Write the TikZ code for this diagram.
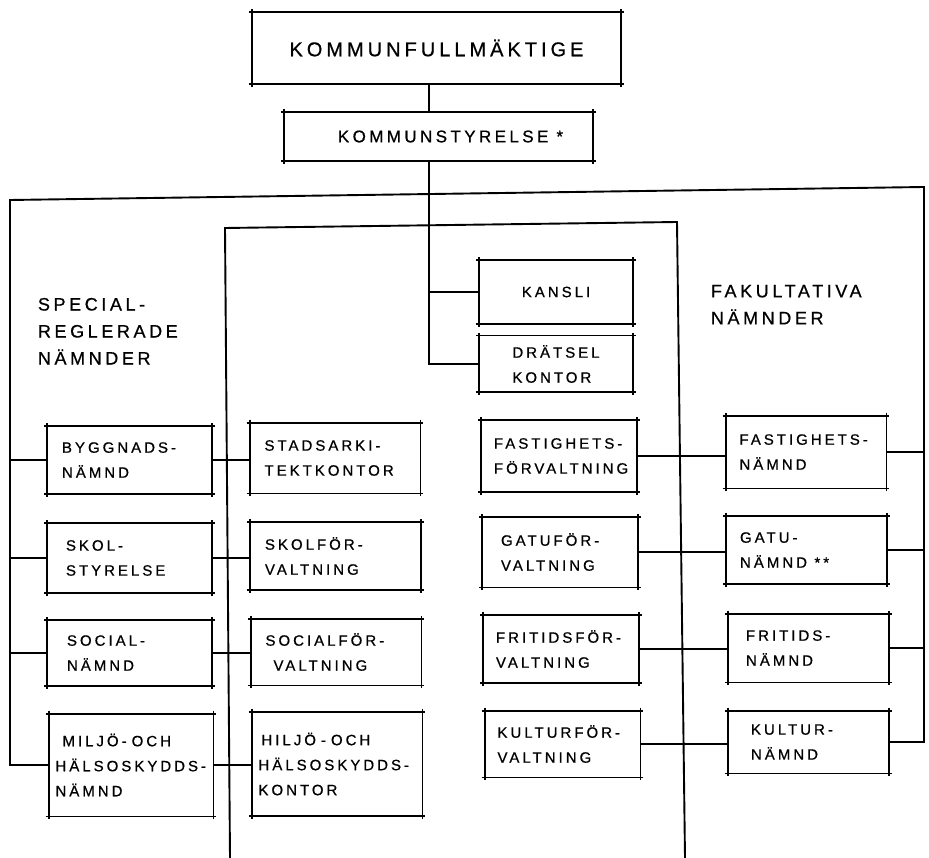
\documentclass[tikz,border=0pt]{standalone}
\usepackage{fontspec}
\usepackage{tikz}
\newfontfamily\handfont[LetterSpace=20,FakeBold=0.7]{Liberation Sans}
\tikzset{
    %Define box edges that run past the corners
    kant/.style={
           shorten <=-3pt,
           shorten >=-3pt},
    %Define style for boxes
    ruta/.style={
           inner sep=2pt,
           align=left,
           font=\handfont\fontsize{15}{25}\selectfont,
           append after command={
             (\tikzlastnode.north west) edge[kant] (\tikzlastnode.north east)
             (\tikzlastnode.south west) edge[kant] (\tikzlastnode.south east)
             (\tikzlastnode.north west) edge[kant] (\tikzlastnode.south west)
             (\tikzlastnode.north east) edge[kant] (\tikzlastnode.south east)}},
    % Define one style for each column
    namnd/.style={ruta, inner xsep=0pt, minimum width=163pt, text width=135pt},
    kontor/.style={ruta, inner xsep=0pt, minimum width=169pt, text width=141pt},
    forv/.style={ruta, inner xsep=0pt, minimum width=154pt, text width=130pt},
    fakult/.style={ruta, inner xsep=0pt, minimum width=159pt, text width=133pt},
    % Define style for headings
    rubrik/.style={
           inner sep=0pt,
           anchor=north west,
           align=left,
           font=\handfont\fontsize{18}{27}\selectfont}
}

\begin{document}
\begin{tikzpicture}[x=1pt,y=-1pt,line width=1.9pt]
\useasboundingbox (0,0) rectangle (929,858);
\node[ruta, minimum width=367pt, minimum height=70pt,
  font=\handfont\fontsize{20}{24}\selectfont] (kf) at (436.5,48) {KOMMUNFULLMÄKTIGE};
\node[ruta, minimum width=307pt, minimum height=47pt,
  font=\handfont\fontsize{17}{20}\selectfont] (ks) at (438.5,136.5) {\hspace*{24pt}KOMMUNSTYRELSE *};
\node[ruta, minimum width=152pt, minimum height=62pt] (ka) at (556,292) {KANSLI};
\node[ruta, minimum width=152pt, minimum height=55pt] (dr) at (556,364) {DRÄTSEL\\KONTOR};
\node[rubrik] (sr) at (37,297) {SPECIAL-\\REGLERADE\\NÄMNDER};
\node[rubrik] (fk) at (710,284) {FAKULTATIVA\\NÄMNDER};
% special regulated boards
\node[namnd, minimum height=66pt] (sn1) at (129.5,460) {BYGGNADS-\\NÄMND};
\node[namnd, minimum height=68pt] (sn2) at (129.5,558) {\hspace*{4pt}SKOL-\\\hspace*{4pt}STYRELSE};
\node[namnd, minimum height=64pt] (sn3) at (129.5,653) {\hspace*{5pt}SOCIAL-\\\hspace*{5pt}NÄMND};
\node[namnd, minimum height=101pt, text width=151pt] (sn4) at (131,765)
  {\hspace*{7pt}MILJÖ- OCH\\HÄLSOSKYDDS-\\NÄMND};
% offices
\node[kontor, minimum height=69pt] (kt1) at (335,458) {STADSARKI-\\TEKTKONTOR};
\node[kontor, minimum height=66pt] (kt2) at (335.5,556) {SKOLFÖR-\\VALTNING};
\node[kontor, minimum height=65pt] (kt3) at (336,652) {SOCIALFÖR-\\\hspace*{8pt}VALTNING};
\node[kontor, minimum height=102pt, text width=157pt] (kt4) at (337,764)
  {\hspace*{3pt}HILJÖ - OCH\\HÄLSOSKYDDS-\\KONTOR};
% administrations
\node[forv, minimum height=70pt] (fv1) at (559,456) {FASTIGHETS-\\FÖRVALTNING};
\node[forv, minimum height=69pt] (fv2) at (560,552) {\hspace*{6pt}GATUFÖR-\\\hspace*{6pt}VALTNING};
\node[forv, minimum height=66pt] (fv3) at (561,649) {FRITIDSFÖR-\\VALTNING};
\node[forv, minimum height=65pt] (fv4) at (562.5,744) {KULTURFÖR-\\VALTNING};
% optional boards
\node[fakult, minimum height=71pt] (fn1) at (806,452) {FASTIGHETS-\\NÄMND};
\node[fakult, minimum height=66pt] (fn2) at (806.5,550) {GATU-\\NÄMND \,**};
\node[fakult, minimum height=67pt] (fn3) at (808.5,648) {\hspace*{4pt}FRITIDS-\\\hspace*{4pt}NÄMND};
\node[fakult, minimum height=61pt] (fn4) at (808.5,742) {\hspace*{9pt}KULTUR-\\\hspace*{9pt}NÄMND};
% frames and stem
\coordinate (stam) at (429,0);
\coordinate (ytv) at (10,200);
\coordinate (yth) at (924,187);
\coordinate (ivn) at (230,858);
\coordinate (ivo) at (225,228);
\coordinate (iho) at (677,222);
\coordinate (ihn) at (685,858);
\draw (kf.south -| stam) -- (ks.north -| stam);
\draw (ks.south -| stam) |- (dr.west);
\draw (ka.west) -- (ka.west -| stam);
\draw (sn4.west) -| (ytv) -- (yth) |- (fn4.east);
\draw (ivn) -- (ivo) -- (iho) -- (ihn);
\foreach \i in {1,2,3} {
  \draw (sn\i.west) -- (sn\i.west -| ytv);
  \draw (fn\i.east) -- (fn\i.east -| yth);}
\foreach \i in {1,...,4} {
  \draw (sn\i.east) -- (kt\i.west |- sn\i.east);
  \draw (fv\i.east) -- (fn\i.west |- fv\i.east);}
\end{tikzpicture}
\end{document}
